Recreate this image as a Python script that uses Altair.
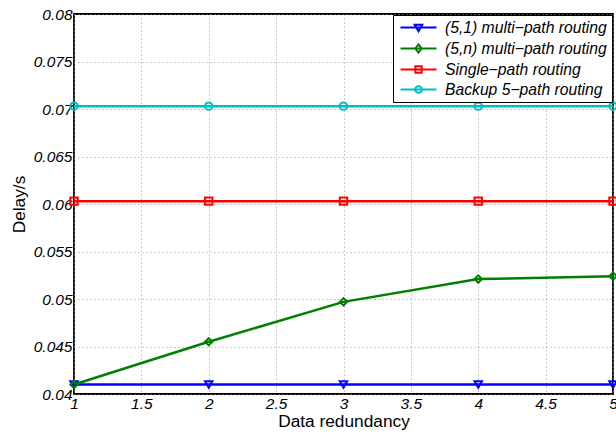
import altair as alt
import pandas as pd

# ---- data -------------------------------------------------------------
x_vals = [1, 2, 3, 4, 5]
series_names = [
    "(5,1) multi\u2212path routing",
    "(5,n) multi\u2212path routing",
    "Single\u2212path routing",
    "Backup 5\u2212path routing",
]
delay_51 = [0.0410, 0.0410, 0.0410, 0.0410, 0.0410]
delay_5n = [0.0410, 0.0455, 0.0497, 0.0521, 0.0524]
delay_single = [0.0603, 0.0603, 0.0603, 0.0603, 0.0603]
delay_backup = [0.0703, 0.0703, 0.0703, 0.0703, 0.0703]

x_ticks = [1, 1.5, 2, 2.5, 3, 3.5, 4, 4.5, 5]
y_ticks = [0.04, 0.045, 0.05, 0.055, 0.06, 0.065, 0.07, 0.075, 0.08]

colors = ["#0000ff", "#008000", "#ff0000", "#00bfbf"]
shapes = ["triangle-down", "diamond", "square", "circle"]
legend_shapes = [
    "M-2.57,0H2.57M-0.55,-0.4H0.55L0,0.55Z",
    "M-2.57,0H2.57M0,-0.6L0.45,0L0,0.6L-0.45,0Z",
    "M-2.57,0H2.57M-0.45,-0.45H0.45V0.45H-0.45Z",
    "M-2.57,0H2.57M0.48,0A0.48,0.48,0,1,1,-0.48,0A0.48,0.48,0,1,1,0.48,0Z",
]

all_series = [delay_51, delay_5n, delay_single, delay_backup]
rows = []
for name, vals in zip(series_names, all_series):
    for xv, yv in zip(x_vals, vals):
        rows.append({"x": xv, "y": yv, "series": name})
df = pd.DataFrame(rows)

FONT = "Liberation Sans"

x_enc = alt.X(
    "x:Q",
    scale=alt.Scale(domain=[1, 5], nice=False, zero=False),
    axis=alt.Axis(
        values=x_ticks, format="~g", title="Data redundancy",
        labelFlush=False, labelOverlap=False, titlePadding=1,
    ),
)
y_enc = alt.Y(
    "y:Q",
    scale=alt.Scale(domain=[0.04, 0.08], nice=False, zero=False),
    axis=alt.Axis(
        values=y_ticks, format="~g", title="Delay/s",
        labelFlush=False, labelOverlap=False, titlePadding=5,
    ),
)

color_scale = alt.Scale(domain=series_names, range=colors)

base = alt.Chart(df).encode(x=x_enc, y=y_enc)

lines = base.mark_line(strokeWidth=2.5).encode(
    color=alt.Color("series:N", scale=color_scale, legend=None),
    detail="series:N",
)

points = base.mark_point(filled=False, strokeWidth=2, size=55, opacity=1).encode(
    color=alt.Color("series:N", scale=color_scale, legend=None),
    shape=alt.Shape("series:N", scale=alt.Scale(domain=series_names, range=shapes), legend=None),
)

leg = alt.Legend(
    title=None,
    orient="top-right",
    offset=1,
    padding=4.5,
    strokeColor="black",
    fillColor="white",
    cornerRadius=0,
    labelFont=FONT,
    labelFontSize=15.7,
    labelFontStyle="italic",
    labelColor="black",
    labelLimit=400,
    symbolSize=196,
    symbolStrokeWidth=2,
    symbolOffset=13,
    labelOffset=18.5,
    rowPadding=4,
)

legend_layer = base.transform_filter("false").mark_point(
    filled=False, strokeWidth=2, opacity=1
).encode(
    color=alt.Color("series:N", scale=color_scale, legend=leg),
    shape=alt.Shape("series:N", scale=alt.Scale(domain=series_names, range=legend_shapes), legend=leg),
)

chart = (
    alt.layer(lines, points, legend_layer)
    .resolve_scale(color="independent", shape="independent")
    .properties(
        width=539,
        height=380,
        autosize=alt.AutoSizeParams(type="none"),
        padding={"left": 74, "top": 14, "right": 3, "bottom": 44},
        background="white",
    )
    .configure_view(stroke="black", strokeWidth=1.8)
    .configure_axis(
        domain=False,
        ticks=False,
        grid=True,
        gridColor="#999999",
        gridDash=[1, 3],
        gridWidth=1,
        labelFont=FONT,
        labelFontSize=15.5,
        labelFontStyle="italic",
        labelColor="black",
        labelPadding=2,
        titleFont=FONT,
        titleFontSize=17.3,
        titleFontWeight="normal",
        titleColor="black",
    )
)

chart.save("out.html", embed_options={"renderer": "svg", "actions": False})
